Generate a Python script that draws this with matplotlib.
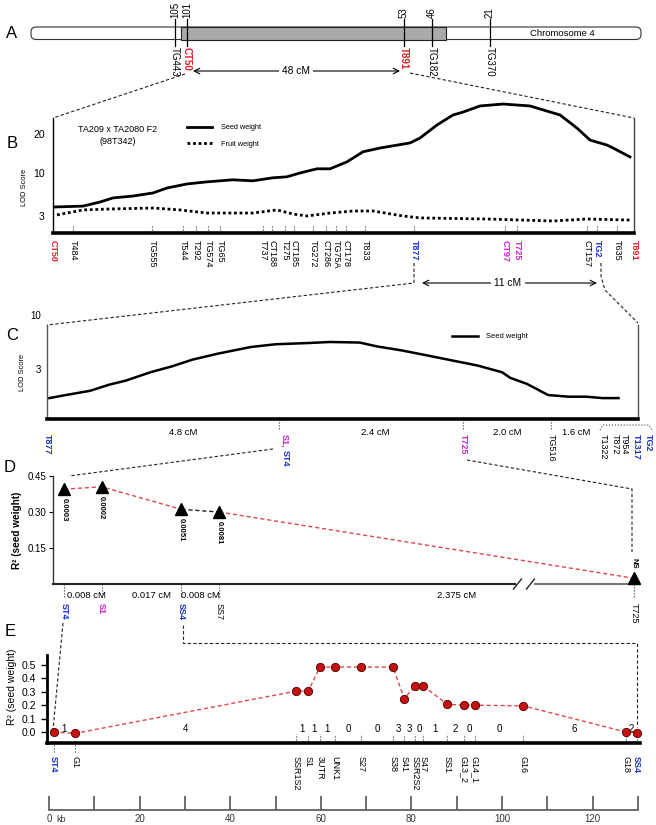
import numpy as np
import matplotlib
matplotlib.use('Agg')
import matplotlib.pyplot as plt
import matplotlib.transforms as mtransforms
from matplotlib.patches import FancyBboxPatch, Rectangle
from matplotlib.lines import Line2D

plt.rcParams['font.family'] = ['Liberation Sans', 'DejaVu Sans']

RED = '#e31b23'
BLUE = '#1a2ecc'
MAG = '#cc22cc'
BLK = 'black'

# ===================== DATA =====================
# Panel A : chromosome 4 markers (map positions)
chr_markers = ['TG443', 'CT50', 'T891', 'TG182', 'TG370']
chr_positions = [105, 101, 53, 46, 21]
chr_colors = [BLK, RED, RED, BLK, BLK]

# Panel B : LOD profiles, x in cM from CT50
b_seed_cm = [0.17, 2.48, 3.88, 4.96, 6.61, 8.26, 9.42, 11.07, 12.72, 14.87, 16.52, 18.17, 19.33,
             20.41, 21.81, 22.89, 24.29, 25.61, 27.02, 29.50, 30.32, 31.73, 33.05, 33.87, 35.28,
             37.18, 39.41, 41.89, 43.29, 44.37, 45.77, 46.27, 47.67]
b_seed_lod = [4.08, 4.2, 4.78, 5.4, 5.7, 6.2, 7.06, 7.8, 8.2, 8.6, 8.4, 9.0, 9.2, 10.0, 10.9, 10.9,
              12.5, 15.0, 16.0, 17.4, 18.8, 22.8, 26.1, 27.1, 29.3, 30.0, 29.3, 26.1, 21.8, 18.2,
              16.8, 16.0, 13.7]
b_fruit_cm = [0.33, 2.48, 4.71, 8.26, 10.49, 12.72, 14.87, 16.52, 18.51, 19.83, 20.98, 22.89,
              24.79, 26.44, 28.92, 30.32, 35.86, 41.31, 44.12, 47.67]
b_fruit_lod = [3.07, 3.69, 3.81, 3.94, 3.69, 3.3, 3.3, 3.3, 3.69, 3.18, 2.95, 3.3, 3.55, 3.55,
               2.95, 2.73, 2.61, 2.40, 2.61, 2.5]
b_markers = ['CT50', 'T484', 'TG555', 'T544', 'T292', 'TG574', 'TG65', 'T737', 'CT188', 'T275',
             'CT185', 'TG272', 'CT286', 'TG75A', 'CT178', 'T833', 'T877', 'CT97', 'T725',
             'CT157', 'TG2', 'T635', 'T891']
b_marker_cm = [0, 1.65, 8.18, 10.74, 11.81, 12.81, 13.80, 17.35, 18.09, 19.17, 19.91, 21.48,
               22.56, 23.38, 24.21, 25.78, 29.83, 37.34, 38.34, 44.12, 44.95, 46.6, 48.0]
b_marker_colors = {'CT50': RED, 'T891': RED, 'T877': BLUE, 'TG2': BLUE, 'CT97': MAG, 'T725': MAG}

# Panel C : fine-map LOD profile (relative map position 0-100)
c_pos = [0.4, 3.4, 7.3, 10.5, 13.3, 17.5, 21.1, 24.6, 28.9, 34.5, 38.7, 44.4, 47.9, 52.9, 55.8,
         60.0, 64.3, 68.5, 72.8, 77.0, 78.4, 81.2, 84.8, 88.3, 91.2, 94.0, 96.7]
c_lod = [1.59, 1.71, 1.87, 2.14, 2.34, 2.82, 3.21, 3.73, 4.26, 4.94, 5.25, 5.40, 5.52, 5.45, 5.01,
         4.58, 4.10, 3.67, 3.28, 2.82, 2.49, 2.18, 1.70, 1.64, 1.64, 1.59, 1.59]
c_marker_pos = [0, 39.3, 70.4, 85.3]
c_intervals = ['4.8 cM', '2.4 cM', '2.0 cM', '1.6 cM']
c_cluster = ['T1322', 'T872', 'T954', 'T1317', 'TG2']
c_cluster_colors = [BLK, BLK, BLK, BLUE, BLUE]

# Panel D : single-marker R2 (x in cM from ST4)
d_markers = ['ST4', 'S1', 'SS4', 'SS7', 'T725']
d_cm = [0, 0.008, 0.025, 0.033, 2.408]
d_r2 = [0.395, 0.405, 0.311, 0.300, 0.024]
d_pval = ['0.0003', '0.0002', '0.0051', '0.0081', 'NS']
d_intervals = ['0.008 cM', '0.017 cM', '0.008 cM', '2.375 cM']
d_colors = [BLUE, MAG, BLUE, BLK, BLK]

# Panel E : R2 along the physical map (kb)
e_markers = ['ST4', 'G1', 'SSR1S2', 'S1', '3UTR', 'UNK1', 'S27', 'S38', 'S41', 'SSR2S2', 'S47',
             'SS1', 'G13_2', 'G14_1', 'G16', 'G18', 'SS4']
e_kb = [1.0, 5.8, 54.5, 57.2, 59.8, 63.1, 68.8, 75.9, 78.4, 80.8, 82.6, 87.9, 91.6, 94.0, 104.6,
        127.3, 129.7]
e_r2 = [0.0, -0.01, 0.305, 0.305, 0.485, 0.485, 0.485, 0.485, 0.25, 0.343, 0.343, 0.207, 0.20,
        0.20, 0.196, 0.0, -0.005]
e_recomb = [1, 4, 1, 1, 1, 0, 0, 3, 3, 0, 1, 2, 0, 0, 6, 2]

# ===================== LAYOUT =====================
W, H = 656, 825
fig = plt.figure(figsize=(W / 100, H / 100), dpi=100)
fig.patch.set_facecolor('white')
BOX = {}


def add_ax(name, l, t, r, b):
    ax = fig.add_axes([l / W, 1 - b / H, (r - l) / W, (b - t) / H])
    BOX[name] = (l, t, r, b)
    return ax


def fy(name, ypx):
    l, t, r, b = BOX[name]
    return (b - ypx) / (b - t)


def fx(name, xpx):
    l, t, r, b = BOX[name]
    return (xpx - l) / (r - l)


def blend(ax):
    return mtransforms.blended_transform_factory(ax.transData, ax.transAxes)


DASH = dict(color='#222', lw=0.8, ls=(0, (3, 2)))
ov = fig.add_axes([0, 0, 1, 1])
ov.set_xlim(0, W)
ov.set_ylim(H, 0)
ov.axis('off')
ov.set_zorder(10)

# ---------- Panel A ----------
a_x = [175, 187, 404, 432, 490]
ov.add_patch(FancyBboxPatch((31, 27), 610, 12.5, boxstyle='round,pad=0,rounding_size=5',
                            fc='white', ec='#333', lw=0.8))
ov.add_patch(Rectangle((181, 27), 265, 12.5, fc='#a9a9a9', ec='#222', lw=0.8))
ov.text(562, 34, 'Chromosome 4', fontsize=6.8, ha='center', va='center')
for x, name, pos, col in zip(a_x, chr_markers, chr_positions, chr_colors):
    ov.plot([x, x], [19, 46], color='k', lw=0.9)
    ov.text(x, 17.5, str(pos), rotation=90, ha='center', va='bottom', fontsize=7)
    ov.text(x, 47, name, rotation=-90, ha='center', va='top', fontsize=7, color=col,
            fontweight='bold' if col != BLK else 'normal')
ov.annotate('', xy=(400, 71), xytext=(193, 71),
            arrowprops=dict(arrowstyle='<->', lw=0.8, color='k', shrinkA=0, shrinkB=0))
ov.text(296, 71, '48 cM', ha='center', va='center', fontsize=7.4,
        bbox=dict(fc='white', ec='none', pad=2.5))
ov.plot([185, 53], [74, 118], **DASH)
ov.plot([410, 634], [73, 118], **DASH)
ov.text(12, 34, 'A', fontsize=12, ha='center', va='center')

# ---------- Panel B ----------
axB = add_ax('B', 53, 100, 634, 233)
axB.set_yscale('function', functions=(lambda v: np.sqrt(np.clip(v, 0, None)), lambda v: v ** 2))
axB.set_xlim(0, 48)
axB.set_ylim(1.313, 31.5)
axB.plot(b_seed_cm, b_seed_lod, color='k', lw=2, clip_on=False)
axB.plot(b_fruit_cm, b_fruit_lod, color='k', lw=2, ls=(0, (1, 1)), clip_on=False)
axB.spines['top'].set_visible(False)
axB.spines['left'].set_bounds(1.313, 25.1)
axB.spines['right'].set_bounds(1.313, 25.1)
axB.spines['left'].set_linewidth(1.0)
axB.spines['right'].set_linewidth(1.0)
axB.spines['right'].set_color('#444')
axB.spines['bottom'].set_linewidth(2.6)
axB.set_xticks([])
axB.set_yticks([3, 10, 20])
axB.set_yticklabels(['3', '10', '20'])
axB.yaxis.set_minor_locator(matplotlib.ticker.NullLocator())
axB.tick_params(axis='y', length=0, pad=6, labelsize=7.5)
axB.patch.set_visible(False)
tb = blend(axB)
for name, cm in zip(b_markers, b_marker_cm):
    col = b_marker_colors.get(name, BLK)
    axB.plot([cm, cm], [0, fy('B', 225)], transform=tb, ls=':', lw=0.8, color='#333', clip_on=False)
    axB.text(cm, fy('B', 240), name, transform=tb, rotation=-90, ha='center', va='top',
             fontsize=6.5, color=col, fontweight='bold' if col != BLK else 'normal')
ov.text(118, 129, 'TA209 x TA2080 F2', ha='center', va='center', fontsize=6.5)
ov.text(118, 141, '(98T342)', ha='center', va='center', fontsize=6.5)
hB = [Line2D([], [], color='k', lw=2), Line2D([], [], color='k', lw=2, ls=(0, (1, 1)))]
axB.legend(hB, ['Seed weight', 'Fruit weight'], loc='upper left',
           bbox_to_anchor=(187 / W, 1 - 124 / H), bbox_transform=fig.transFigure,
           frameon=False, fontsize=5.3, handlelength=3.4, handletextpad=1.2,
           labelspacing=1.3, borderpad=0, borderaxespad=0)
ov.text(25, 187, 'LOD Score', rotation=90, ha='center', va='center', fontsize=5.4)
ov.text(12, 143, 'B', fontsize=12, ha='center', va='center')

# B -> C connectors and 11 cM arrow
ov.plot([414, 414, 47], [263, 283, 325], **DASH)
ov.plot([601, 601, 605, 638], [263, 276, 290, 323], **DASH)
ov.annotate('', xy=(597, 283), xytext=(422, 283),
            arrowprops=dict(arrowstyle='<->', lw=0.8, color='k', shrinkA=0, shrinkB=0))
ov.text(508, 283, '11 cM', ha='center', va='center', fontsize=7.4,
        bbox=dict(fc='white', ec='none', pad=2.5))

# ---------- Panel C ----------
axC = add_ax('C', 47, 313, 638, 419)
axC.set_yscale('log')
axC.set_xlim(0, 100)
axC.set_ylim(1.0, 10.5)
axC.plot(c_pos, c_lod, color='k', lw=1.8)
axC.spines['top'].set_visible(False)
axC.spines['left'].set_bounds(1.0, 8.05)
axC.spines['right'].set_bounds(1.0, 8.05)
for s in ['left', 'right']:
    axC.spines[s].set_linewidth(1.0)
    axC.spines[s].set_color('#555')
axC.spines['bottom'].set_linewidth(2.6)
axC.set_xticks([])
axC.set_yticks([3, 10])
axC.set_yticklabels(['3', '10'])
axC.yaxis.set_minor_locator(matplotlib.ticker.NullLocator())
axC.tick_params(axis='y', length=0, pad=4, labelsize=7)
axC.patch.set_visible(False)
tc = blend(axC)
for p in c_marker_pos[1:]:
    axC.plot([p, p], [0, fy('C', 430)], transform=tc, ls=':', lw=0.8, color='#333', clip_on=False)
ylab = fy('C', 434)
axC.text(c_marker_pos[0], ylab, 'T877', transform=tc, rotation=-90, ha='center', va='top',
         fontsize=6.5, color=BLUE, fontweight='bold')
axC.text(c_marker_pos[1] + 1.0, ylab, 'S1,', transform=tc, rotation=-90, ha='center', va='top',
         fontsize=6.5, color=MAG, fontweight='bold')
axC.text(c_marker_pos[1] + 1.0, fy('C', 450), 'ST4', transform=tc, rotation=-90, ha='center',
         va='top', fontsize=6.5, color=BLUE, fontweight='bold')
axC.text(c_marker_pos[2], ylab, 'T725', transform=tc, rotation=-90, ha='center', va='top',
         fontsize=6.5, color=MAG, fontweight='bold')
axC.text(c_marker_pos[3], ylab, 'TG516', transform=tc, rotation=-90, ha='center', va='top',
         fontsize=6.5, color=BLK)
c_cluster_x = [94.1, 96.1, 97.6, 99.8, 101.7]
for name, px, col in zip(c_cluster, c_cluster_x, c_cluster_colors):
    axC.text(px, ylab, name, transform=tc, rotation=-90, ha='center', va='top', fontsize=6.5,
             color=col, fontweight='bold' if col != BLK else 'normal')
c_int_x = [23.0, 55.5, 77.8, 89.5]
for lab, px in zip(c_intervals, c_int_x):
    axC.text(px, fy('C', 432), lab, transform=tc, ha='center', va='center', fontsize=6.8)
ov.plot([600, 603, 649, 652], [430, 425, 425, 430], color='#444', lw=0.8, ls=':')
axC.legend([Line2D([], [], color='k', lw=1.8)], ['Seed weight'], loc='upper left',
           bbox_to_anchor=(452 / W, 1 - 333 / H), bbox_transform=fig.transFigure,
           frameon=False, fontsize=5.4, handlelength=3.5, handletextpad=1.0,
           borderpad=0, borderaxespad=0)
ov.text(23, 372, 'LOD Score', rotation=90, ha='center', va='center', fontsize=5.4)
ov.text(12, 335, 'C', fontsize=12, ha='center', va='center')

# C -> D connectors
ov.plot([273, 69], [449, 476], **DASH)
ov.plot([467, 632, 632], [460, 489, 552], **DASH)

# ---------- Panel D ----------
BRK, RAT = 0.06, 0.0261


def d_fwd(x):
    x = np.asarray(x, float)
    return np.where(x <= BRK, x, BRK + (x - BRK) * RAT)


def d_inv(y):
    y = np.asarray(y, float)
    return np.where(y <= BRK, y, BRK + (y - BRK) / RAT)


axD = add_ax('D', 53, 476, 635, 584)
axD.set_xscale('function', functions=(d_fwd, d_inv))
axD.set_xlim(-0.00234, 2.416)
axD.set_ylim(0, 0.45)
red_dash = dict(color='#e04a4a', lw=1.0, ls=(0, (3, 2)))
axD.plot(d_cm[0:3], d_r2[0:3], **red_dash)
axD.plot(d_cm[2:4], d_r2[2:4], color='#222', lw=1.0, ls=(0, (3, 2)))
axD.plot(d_cm[3:5], d_r2[3:5], **red_dash)
axD.plot(d_cm, d_r2, ls='none', marker='^', ms=9, color='k', clip_on=False, zorder=5)
for x, y, p in zip(d_cm, d_r2, d_pval):
    if p == 'NS':
        axD.annotate(p, (x, y), xytext=(0, 7), textcoords='offset points', rotation=-90,
                     ha='center', va='bottom', fontsize=5.5, fontweight='bold')
    else:
        axD.annotate(p, (x, y), xytext=(0, -6.5), textcoords='offset points', rotation=-90,
                     ha='center', va='top', fontsize=5.5, fontweight='bold')
for s in ['top', 'right', 'bottom']:
    axD.spines[s].set_visible(False)
axD.spines['left'].set_color('#333')
axD.spines['left'].set_linewidth(1.0)
axD.set_xticks([])
axD.set_xticks([], minor=True)
axD.set_yticks([0.15, 0.30, 0.45])
axD.set_yticklabels(['0.15', '0.30', '0.45'])
axD.tick_params(axis='y', length=3, width=0.8, pad=1.5, labelsize=7)
axD.patch.set_visible(False)
axD.plot([0, fx('D', 515)], [0, 0], transform=axD.transAxes, color='#222', lw=1.5, clip_on=False)
axD.plot([fx('D', 535), 1], [0, 0], transform=axD.transAxes, color='#777', lw=1.5, clip_on=False)
for cx in [517.5, 530.5]:
    axD.plot([fx('D', cx - 4), fx('D', cx + 4)], [fy('D', 589), fy('D', 579)],
             transform=axD.transAxes, color='#222', lw=1.0, clip_on=False)
td = blend(axD)
for name, x, col in zip(d_markers, d_cm, d_colors):
    axD.plot([x, x], [0, fy('D', 598)], transform=td, ls=':', lw=0.8, color='#333', clip_on=False)
    axD.text(x, fy('D', 603), name, transform=td, rotation=-90, ha='center', va='top',
             fontsize=6.5, color=col, fontweight='bold' if col != BLK else 'normal')
d_int_x = [86, 151, 200, 457]
for lab, px in zip(d_intervals, d_int_x):
    axD.text(fx('D', px), fy('D', 595), lab, transform=axD.transAxes, ha='center', va='center',
             fontsize=6.8)
ov.text(17, 530, 'R² (seed weight)', rotation=90, ha='center', va='center', fontsize=7.2,
        fontweight='bold')
ov.text(10, 468, 'D', fontsize=12, ha='center', va='center')

# D -> E connectors
ov.plot([63, 53], [623, 730], **DASH)
ov.plot([183, 183, 637, 637], [625, 643, 643, 727], **DASH)

# ---------- Panel E ----------
E_XLIM = (-0.441, 130.43)
axE = add_ax('E', 47, 655, 640, 743)
axE.set_xlim(*E_XLIM)
axE.set_ylim(-0.082, 0.575)
axE.plot(e_kb, e_r2, color='#e04a4a', lw=1.0, ls=(0, (3, 2)), marker='o', ms=6,
         mfc='#c81010', mec='#4a0000', mew=0.6, clip_on=False, zorder=5)
for s in ['top', 'right']:
    axE.spines[s].set_visible(False)
axE.spines['left'].set_linewidth(2.0)
axE.spines['bottom'].set_linewidth(2.6)
axE.set_xticks([])
axE.set_yticks([0.0, 0.1, 0.2, 0.3, 0.4, 0.5])
axE.set_yticklabels(['0.0', '0.1', '0.2', '0.3', '0.4', '0.5'])
axE.tick_params(axis='y', length=4, width=1.0, pad=4, labelsize=7.5)
axE.patch.set_visible(False)
te = blend(axE)
for i, (name, x) in enumerate(zip(e_markers, e_kb)):
    col = BLUE if name in ('ST4', 'SS4') else BLK
    if i < 2:
        axE.plot([x, x], [fy('E', 745), fy('E', 753)], transform=te, ls=':', lw=0.8, color='#333',
                 clip_on=False)
    else:
        axE.plot([x, x], [0, fy('E', 734)], transform=te, ls=':', lw=0.8, color='#333',
                 clip_on=False)
    axE.text(x, fy('E', 756), name, transform=te, rotation=-90, ha='center', va='top',
             fontsize=6.5, color=col, fontweight='bold' if col != BLK else 'normal')
for k, n in enumerate(e_recomb):
    xm = 0.5 * (e_kb[k] + e_kb[k + 1])
    axE.text(xm, 0.022, str(n), ha='center', va='center', fontsize=7)
ov.text(12, 687, 'R² (seed weight)', rotation=90, ha='center', va='center', fontsize=7.5)
ov.text(10, 632, 'E', fontsize=12, ha='center', va='center')

# kb scale
axK = add_ax('K', 47, 780, 640, 810)
axK.set_xlim(*E_XLIM)
axK.set_ylim(0, 1)
for s in ['left', 'right', 'top']:
    axK.spines[s].set_visible(False)
axK.spines['bottom'].set_bounds(0, 130)
axK.spines['bottom'].set_color('#555')
axK.spines['bottom'].set_linewidth(1.2)
kb_ticks = list(range(0, 131, 10))
axK.set_xticks(kb_ticks)
axK.set_xticklabels([str(v) if v % 20 == 0 else '' for v in kb_ticks])
axK.tick_params(axis='x', direction='in', length=10, width=1.2, color='#555', labelcolor='#333',
                labelsize=7, pad=3)
axK.set_yticks([])
axK.patch.set_visible(False)
ov.text(61, 820, 'kb', ha='center', va='center', fontsize=6.5, color='#333')

fig.savefig('out.png', dpi=100)
